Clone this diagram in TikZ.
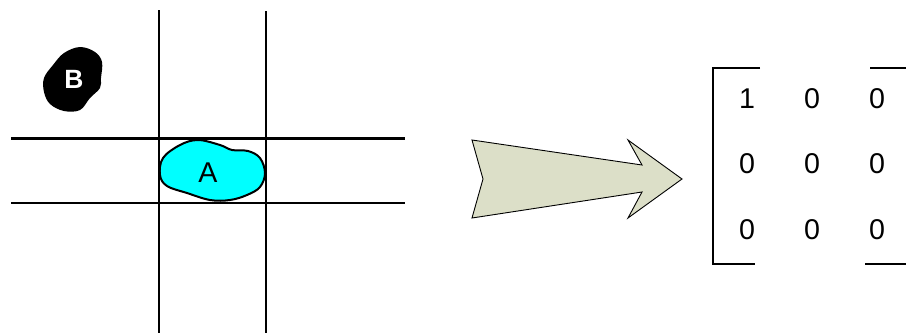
\documentclass[tikz,border=0pt]{standalone}
\usepackage{fontspec}
\setmainfont{Liberation Sans}
\definecolor{arrowfill}{HTML}{DCDFC8}
\definecolor{blobA}{HTML}{00FFFF}
\begin{document}
\begin{tikzpicture}[x=1pt,y=-1pt,
  gridline/.style={line width=2.2pt},
  bracketline/.style={line width=2.4pt},
  num/.style={font=\fontsize{22}{22}\selectfont, inner sep=0pt, scale=1.3},
  bloblab/.style={inner sep=0pt}]
\useasboundingbox (0,0) rectangle (906,333);
% grid
\coordinate (v1t) at (159,10); \coordinate (v1b) at (159,333);
\coordinate (v2t) at (266,11); \coordinate (v2b) at (266,333);
\coordinate (h1l) at (11,138.5); \coordinate (h1r) at (405,138.5);
\coordinate (h2l) at (11,203); \coordinate (h2r) at (405,203);
\draw[gridline] (v1t) -- (v1b);
\draw[gridline] (v2t) -- (v2b);
\draw[gridline] (h1l) -- (h1r);
\draw[gridline] (h2l) -- (h2r);
% blob A
\draw[line width=2pt, fill=blobA] plot[smooth cycle, tension=0.6] coordinates
 {(198,140) (220,145) (232,150) (248,151) (260,158) (265,173) (260,187) (247,195) (230,200) (210,200) (187,193) (167,186) (160,175) (163,158) (180,145)};
\node[bloblab, font=\fontsize{22}{22}\selectfont, scale=1.3] (A) at (208,173) {A};
% blob B
\fill[black] plot[smooth cycle, tension=0.6] coordinates
 {(80,47) (95,52) (102,62) (101,78) (100,88) (90,98) (80,110) (64,111) (50,104) (44,92) (44,78) (53,65) (64,53)};
\node[bloblab, text=white, font=\bfseries\fontsize{22}{22}\selectfont, scale=1.2] (B) at (74,79) {B};
% big arrow
\draw[line width=0.9pt, fill=arrowfill, line join=miter] (472,140) -- (642,165) -- (628,140) -- (682,179) -- (628,218) -- (642,192) -- (472,218) -- (483,179) -- cycle;
% matrix
\coordinate (lbt) at (713,68); \coordinate (lbb) at (713,264);
\coordinate (lbtr) at (760,68); \coordinate (lbbr) at (755,264);
\coordinate (rbtl) at (870,68); \coordinate (rbtr) at (906,68);
\coordinate (rbbl) at (865,264); \coordinate (rbbr) at (906,264);
\draw[bracketline] (lbtr) -- (lbt) -- (lbb) -- (lbbr);
\draw[bracketline] (rbtl) -- (rbtr);
\draw[bracketline] (rbbl) -- (rbbr);
\node[num] (m11) at (747,99) {1};
\node[num] (m12) at (812,99) {0};
\node[num] (m13) at (877,99) {0};
\node[num] (m21) at (747,164) {0};
\node[num] (m22) at (812,164) {0};
\node[num] (m23) at (877,164) {0};
\node[num] (m31) at (747,230) {0};
\node[num] (m32) at (812,230) {0};
\node[num] (m33) at (877,230) {0};
\end{tikzpicture}
\end{document}
